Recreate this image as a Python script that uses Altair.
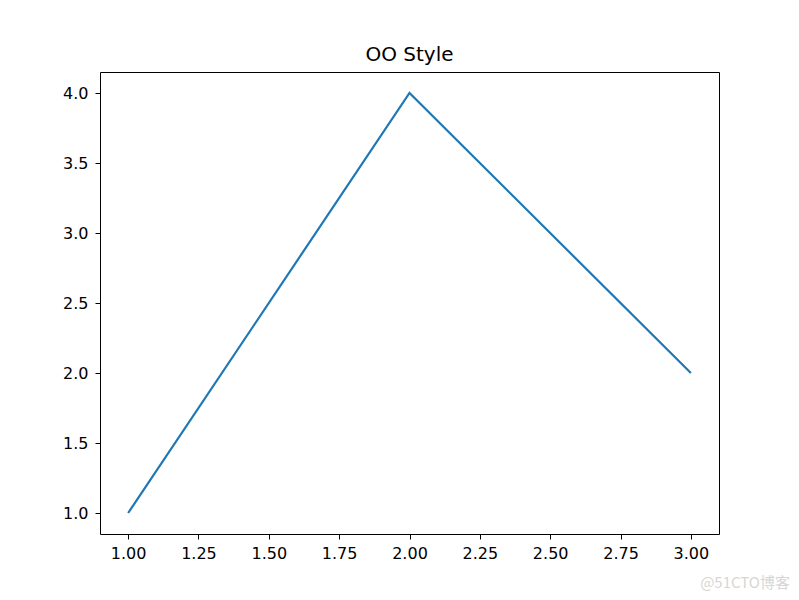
import altair as alt
import pandas as pd

x_vals = [1, 2, 3]
y_vals = [1, 4, 2]
x_ticks = [1.0, 1.25, 1.5, 1.75, 2.0, 2.25, 2.5, 2.75, 3.0]
y_ticks = [1.0, 1.5, 2.0, 2.5, 3.0, 3.5, 4.0]
title_text = "OO Style"
watermark = "@51CTO博客"

df = pd.DataFrame({"x": x_vals, "y": y_vals})

W, H = 619, 462

axis_common = dict(title=None, grid=False, domain=False, tickSize=5, tickColor="black",
                   labelFontSize=16, labelFont="DejaVu Sans", labelColor="black",
                   labelFlush=False)

line = alt.Chart(df).mark_line(color="#1f77b4", strokeWidth=2.2, clip=True).encode(
    x=alt.X("x:Q", scale=alt.Scale(domain=[0.9, 3.1], nice=False, zero=False),
            axis=alt.Axis(values=x_ticks, format=".2f", labelPadding=6, **axis_common)),
    y=alt.Y("y:Q", scale=alt.Scale(domain=[0.85, 4.15], nice=False, zero=False),
            axis=alt.Axis(values=y_ticks, format=".1f", labelPadding=7, **axis_common)),
)

wm = alt.Chart(pd.DataFrame({"t": [watermark]})).mark_text(
    align="right", baseline="middle", fontSize=15, color="#d6d6d6",
    font="Noto Sans CJK SC"
).encode(text="t:N", x=alt.value(690), y=alt.value(511))

chart = alt.layer(line, wm).properties(
    width=W, height=H,
    title=alt.TitleParams(title_text, fontSize=20, font="DejaVu Sans", fontWeight="normal",
                          color="black", offset=7, anchor="middle"),
    autosize=alt.AutoSizeParams(type="none"),
    padding={"left": 92, "top": 64, "right": 72, "bottom": 66},
).configure_view(stroke="black", strokeWidth=1)

chart.save("out.html", embed_options={"renderer": "svg", "actions": False})
